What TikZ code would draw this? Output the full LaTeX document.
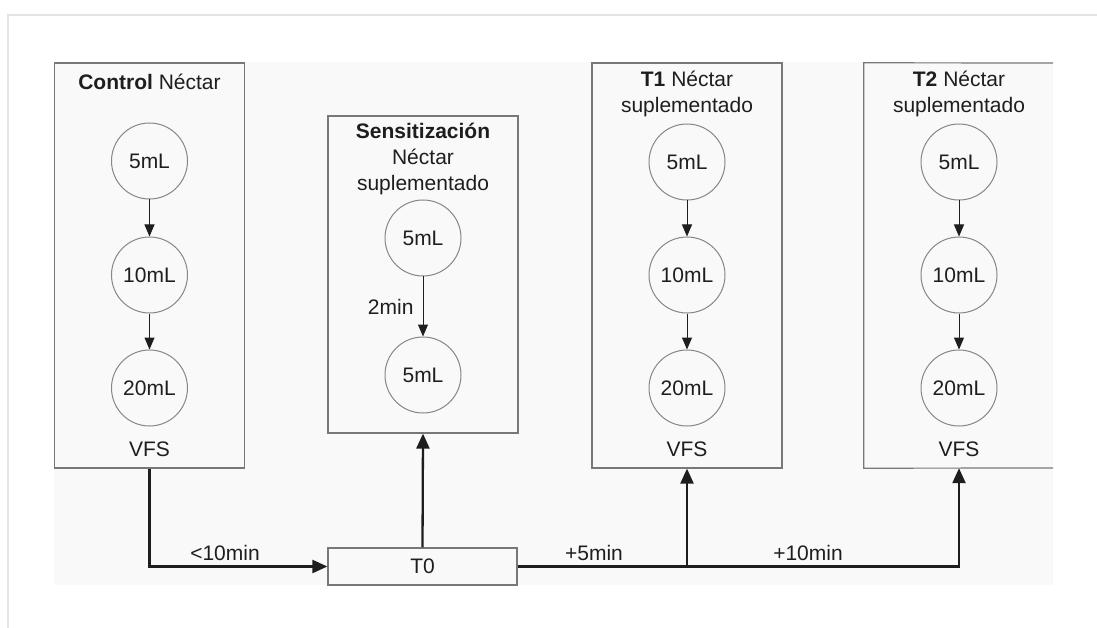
\documentclass[tikz,border=0pt]{standalone}
\usepackage{fontspec}
\setmainfont{Liberation Sans}
\usetikzlibrary{arrows.meta}
\definecolor{bgdiag}{RGB}{249,249,249}
\definecolor{edgec}{RGB}{120,120,120}
\definecolor{circc}{RGB}{135,135,135}
\definecolor{txt}{RGB}{30,30,30}
\definecolor{framec}{RGB}{228,228,228}
\begin{document}
\begin{tikzpicture}[x=1pt,y=-1pt,
  every node/.style={font=\fontsize{21}{26}\selectfont, text=txt},
  panel/.style={draw=edgec, line width=1.2pt, inner sep=0pt, minimum width=190pt},
  vol/.style={circle, draw=circc, line width=1pt, minimum size=76pt, inner sep=0pt},
  thinarrow/.style={draw=txt, line width=1pt, -{Triangle[length=12pt,width=10pt]}},
  mainarrow/.style={draw=txt, line width=2.3pt, -{Triangle[length=15pt,width=13pt]}},
  lbl/.style={inner sep=0pt, align=center}
]
\useasboundingbox (0,0) rectangle (1097,628);
% page frame and diagram background
\fill[white] (0,0) rectangle (1097,628);
\draw[framec, line width=2pt] (8,628) -- (8,15) -- (1097,15);
\fill[bgdiag] (54,62) rectangle (1053,585);

% Control panel
\node[panel, minimum height=405pt] (ctrl) at (149.5,265.5) {};
\node[lbl] (ctrlt) at (149.5,82) {\textbf{Control} Néctar};
\node[vol] (c1) at (149.5,161) {5mL};
\node[vol] (c2) at (149.5,275) {10mL};
\node[vol] (c3) at (149.5,388) {20mL};
\node[lbl] (cv) at (149.5,449) {VFS};
\draw[thinarrow] (c1) -- (c2);
\draw[thinarrow] (c2) -- (c3);

% Sensitizacion panel
\node[panel, minimum height=317pt] (sens) at (423,274.5) {};
\node[lbl] (senst) at (423,159) {\textbf{Sensitización}\\Néctar\\suplementado};
\node[vol] (s1) at (423,238) {5mL};
\node[vol] (s2) at (423,375) {5mL};
\draw[thinarrow] (s1) -- node[lbl, left=9pt] {2min} (s2);

% T1 panel
\node[panel, minimum height=405pt] (t1) at (687,265.5) {};
\node[lbl] (t1t) at (687,93.5) {\textbf{T1} Néctar\\suplementado};
\node[vol] (a1) at (687,162) {5mL};
\node[vol] (a2) at (687,275) {10mL};
\node[vol] (a3) at (687,388) {20mL};
\node[lbl] (av) at (687,449) {VFS};
\draw[thinarrow] (a1) -- (a2);
\draw[thinarrow] (a2) -- (a3);

% T2 panel (cut at the right edge)
\node[inner sep=0pt, minimum width=190pt, minimum height=405pt] (t2) at (959,265.5) {};
\draw[edgec, line width=1.2pt] (1053,63) -- (t2.north west) -- (t2.south west) -- (1053,468);
\node[lbl] (t2t) at (959,93.5) {\textbf{T2} Néctar\\suplementado};
\node[vol] (b1) at (959,162) {5mL};
\node[vol] (b2) at (959,275) {10mL};
\node[vol] (b3) at (959,388) {20mL};
\node[lbl] (bv) at (959,449) {VFS};
\draw[thinarrow] (b1) -- (b2);
\draw[thinarrow] (b2) -- (b3);

% T0 box
\node[panel, minimum width=189pt, minimum height=37pt] (t0) at (422.5,566.5) {T0};

% main connectors
\draw[mainarrow] (ctrl.south) |- (t0.west);
\draw[mainarrow] (t0.north) -- (sens.south);
\draw[mainarrow] (t0.east) -| (t1.south);
\draw[mainarrow] (t0.east) -| (t2.south);

% timing labels
\node[lbl] (l10) at (225,553) {<10min};
\node[lbl] (l5) at (594,553) {+5min};
\node[lbl] (l10b) at (808,553) {+10min};
\end{tikzpicture}
\end{document}
